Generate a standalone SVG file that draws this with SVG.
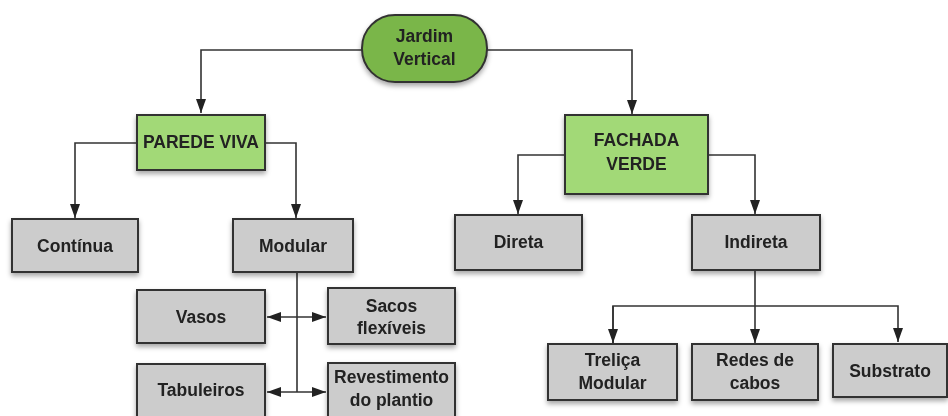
<svg xmlns="http://www.w3.org/2000/svg" width="948" height="416" viewBox="0 0 948 416">
<style>
text{font-family:"Liberation Sans",Arial,sans-serif;font-weight:bold;font-size:17.5px;fill:#222;text-anchor:middle}
.g{fill:#cccccc;stroke:#333;stroke-width:2}
.lg{fill:#a2d977;stroke:#333;stroke-width:2}
.dg{fill:#7ab648;stroke:#333;stroke-width:2}
.c{fill:none;stroke:#333;stroke-width:1.6}
</style>
<defs>
<filter id="sh" x="-20%" y="-20%" width="140%" height="150%">
<feDropShadow dx="0" dy="3" stdDeviation="2.5" flood-color="#000" flood-opacity="0.35"/>
</filter>
<marker id="ar" viewBox="0 0 14 10" refX="14" refY="5" markerWidth="14" markerHeight="10" markerUnits="userSpaceOnUse" orient="auto-start-reverse">
<path d="M0,0 L14,5 L0,10 z" fill="#222"/>
</marker>
</defs>
<rect width="948" height="416" fill="#fff"/>
<g id="connectors">
<path class="c" d="M362,50 H201 V113" marker-end="url(#ar)"/>
<path class="c" d="M487,50 H632 V114" marker-end="url(#ar)"/>
<path class="c" d="M137,143 H75 V218" marker-end="url(#ar)"/>
<path class="c" d="M265,143 H296 V218" marker-end="url(#ar)"/>
<path class="c" d="M565,155 H518 V214" marker-end="url(#ar)"/>
<path class="c" d="M708,155 H755 V214" marker-end="url(#ar)"/>
<path class="c" d="M297,272 V392"/>
<path class="c" d="M267,317 H326" marker-start="url(#ar)" marker-end="url(#ar)"/>
<path class="c" d="M267,392 H326" marker-start="url(#ar)" marker-end="url(#ar)"/>
<path class="c" d="M755,270 V306"/>
<path class="c" d="M613,343 V306 H898 V342" marker-end="url(#ar)"/>
<path class="c" d="M613,306 V343" marker-end="url(#ar)"/>
<path class="c" d="M755,306 V343" marker-end="url(#ar)"/>
</g>
<g id="jardim" filter="url(#sh)">
<rect class="dg" x="362" y="15" width="125" height="67" rx="33" ry="33"/>
<text x="424.5" y="42">Jardim</text>
<text x="424.5" y="65">Vertical</text>
</g>
<g id="parede" filter="url(#sh)">
<rect class="lg" x="137" y="115" width="128" height="55"/>
<text x="201" y="148">PAREDE VIVA</text>
</g>
<g id="fachada" filter="url(#sh)">
<rect class="lg" x="565" y="115" width="143" height="79"/>
<text x="636.5" y="146">FACHADA</text>
<text x="636.5" y="170">VERDE</text>
</g>
<g id="continua" filter="url(#sh)">
<rect class="g" x="12" y="219" width="126" height="53"/>
<text x="75" y="252">Contínua</text>
</g>
<g id="modular" filter="url(#sh)">
<rect class="g" x="233" y="219" width="120" height="53"/>
<text x="293" y="252">Modular</text>
</g>
<g id="direta" filter="url(#sh)">
<rect class="g" x="455" y="215" width="127" height="55"/>
<text x="518.5" y="248">Direta</text>
</g>
<g id="indireta" filter="url(#sh)">
<rect class="g" x="692" y="215" width="128" height="55"/>
<text x="756" y="248">Indireta</text>
</g>
<g id="vasos" filter="url(#sh)">
<rect class="g" x="137" y="290" width="128" height="53"/>
<text x="201" y="323">Vasos</text>
</g>
<g id="sacos" filter="url(#sh)">
<rect class="g" x="328" y="288" width="127" height="56"/>
<text x="391.5" y="312">Sacos</text>
<text x="391.5" y="334">flexíveis</text>
</g>
<g id="tabuleiros" filter="url(#sh)">
<rect class="g" x="137" y="364" width="128" height="60"/>
<text x="201" y="396">Tabuleiros</text>
</g>
<g id="revestimento" filter="url(#sh)">
<rect class="g" x="328" y="363" width="127" height="60"/>
<text x="391.5" y="383">Revestimento</text>
<text x="391.5" y="406">do plantio</text>
</g>
<g id="trelica" filter="url(#sh)">
<rect class="g" x="548" y="344" width="129" height="56"/>
<text x="612.5" y="366">Treliça</text>
<text x="612.5" y="389">Modular</text>
</g>
<g id="redes" filter="url(#sh)">
<rect class="g" x="692" y="344" width="126" height="56"/>
<text x="755" y="366">Redes de</text>
<text x="755" y="389">cabos</text>
</g>
<g id="substrato" filter="url(#sh)">
<rect class="g" x="833" y="344" width="114" height="53"/>
<text x="890" y="377">Substrato</text>
</g>
</svg>
